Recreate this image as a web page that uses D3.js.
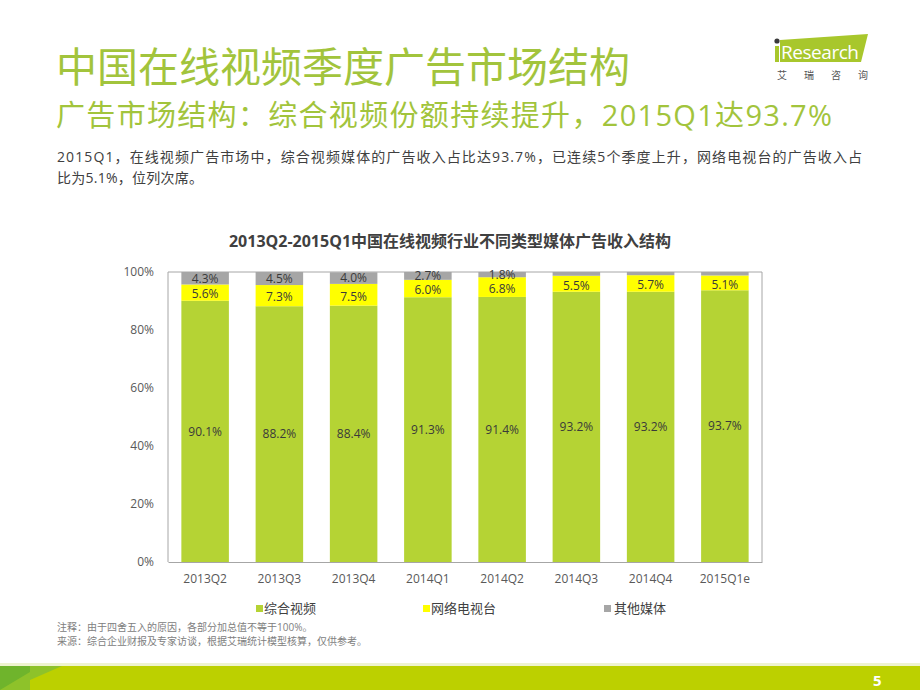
<!DOCTYPE html>
<html>
<head>
<meta charset="utf-8">
<script src="https://cdn.jsdelivr.net/npm/d3@7/dist/d3.min.js"></script>
<style>
html,body{margin:0;padding:0;background:#fff;}
svg{display:block;}
text{font-family:"Open Sans","Noto Sans CJK SC",sans-serif;}
</style>
</head>
<body>
<svg id="c" width="920" height="690"></svg>
<script>
// ---- data ----
const categories = ["2013Q2","2013Q3","2013Q4","2014Q1","2014Q2","2014Q3","2014Q4","2015Q1e"];
const seriesNames = ["综合视频","网络电视台","其他媒体"];
const zongheShipin = [90.1, 88.2, 88.4, 91.3, 91.4, 93.2, 93.2, 93.7];
const wangluoDianshitai = [5.6, 7.3, 7.5, 6.0, 6.8, 5.5, 5.7, 5.1];
const qitaMeiti = [4.3, 4.5, 4.0, 2.7, 1.8, 1.3, 1.1, 1.2];
const showOtherLabel = [true, true, true, true, true, false, false, false];
const yTicks = [0, 20, 40, 60, 80, 100];
const colors = ["#b5d334", "#ffff00", "#a6a6a6"];

const svg = d3.select("#c");
const green = "#a2c43c";

// ---- header ----
svg.append("text").attr("x", 56).attr("y", 82).attr("fill", green)
  .attr("font-size", 41).attr("font-family", "'Noto Sans CJK SC',sans-serif")
  .text("中国在线视频季度广告市场结构");
svg.append("text").attr("x", 56).attr("y", 126).attr("fill", green)
  .attr("font-size", 29).attr("font-family", "'Noto Sans CJK SC',sans-serif")
  .attr("textLength", 776).attr("lengthAdjust", "spacing")
  .text("广告市场结构：综合视频份额持续提升，2015Q1达93.7%");
svg.append("text").attr("x", 57).attr("y", 162).attr("fill", "#404040").attr("font-size", 14)
  .attr("font-family", "'Noto Sans CJK SC',sans-serif")
  .attr("textLength", 805).attr("lengthAdjust", "spacing")
  .text("2015Q1，在线视频广告市场中，综合视频媒体的广告收入占比达93.7%，已连续5个季度上升，网络电视台的广告收入占");
svg.append("text").attr("x", 57).attr("y", 183).attr("fill", "#404040").attr("font-size", 14)
  .attr("font-family", "'Noto Sans CJK SC',sans-serif")
  .attr("textLength", 146).attr("lengthAdjust", "spacing")
  .text("比为5.1%，位列次席。");

// ---- logo ----
const logo = svg.append("g");
logo.append("path").attr("d", "M780,40 L868,34 L861,62 L780,62 Z").attr("fill", "#a8c72c");
logo.append("rect").attr("x", 775).attr("y", 46).attr("width", 4).attr("height", 16).attr("fill", "#a8c72c");
logo.append("circle").attr("cx", 777).attr("cy", 41).attr("r", 2.6).attr("fill", "#3a3a3a");
logo.append("text").attr("x", 781).attr("y", 59).attr("fill", "#fff").attr("font-size", 19)
  .attr("font-family", "'Open Sans',sans-serif").attr("textLength", 78).text("Research");
logo.append("text").attr("x", 777).attr("y", 79).attr("fill", "#555").attr("font-size", 10)
  .attr("font-family", "'Noto Sans CJK SC',sans-serif").attr("letter-spacing", 17)
  .text("艾瑞咨询");

// ---- chart ----
const x = d3.scaleBand().domain(categories).range([168, 762]).paddingInner(0.36).paddingOuter(0.18);
const y = d3.scaleLinear().domain([0, 100]).range([562, 272]);

svg.append("text").attr("x", 450).attr("y", 247).attr("text-anchor", "middle")
  .attr("font-size", 16).attr("font-weight", "bold").attr("fill", "#404040")
  .text("2013Q2-2015Q1中国在线视频行业不同类型媒体广告收入结构");

// frame
svg.append("path").attr("d", `M${x.range()[0]},${y(0)} V${y(100)} H${x.range()[1]} V${y(0)}`)
  .attr("fill", "none").attr("stroke", "#a6a6a6").attr("stroke-width", 1);

const stackData = categories.map((c, i) => ({cat: c, a: zongheShipin[i], b: wangluoDianshitai[i], c: qitaMeiti[i], show: showOtherLabel[i]}));
const stack = d3.stack().keys(["a", "b", "c"])(stackData);

stack.forEach((layer, li) => {
  const g = svg.append("g");
  g.selectAll("rect").data(layer).join("rect")
    .attr("x", d => x(d.data.cat)).attr("width", x.bandwidth())
    .attr("y", d => y(d[1])).attr("height", d => y(d[0]) - y(d[1]))
    .attr("fill", colors[li]);
});
stack.forEach((layer, li) => {
  const g = svg.append("g");
  g.selectAll("text").data(layer.filter(d => li < 2 || d.data.show)).join("text")
    .attr("x", d => x(d.data.cat) + x.bandwidth() / 2)
    .attr("y", d => (y(d[0]) + y(d[1])) / 2 + (li === 1 ? 1.5 : 0))
    .attr("dy", "0.36em").attr("text-anchor", "middle")
    .attr("font-size", 12).attr("fill", "#3a3a3a")
    .text(d => (d[1] - d[0]).toFixed(1) + "%");
});

// axes
const yAxis = svg.append("g").attr("transform", `translate(${x.range()[0]},0)`)
  .call(d3.axisLeft(y).tickValues(yTicks).tickSize(0).tickPadding(14).tickFormat(d => d + "%"));
yAxis.select(".domain").remove();
yAxis.selectAll("text").attr("font-size", 12).attr("fill", "#595959")
  .attr("font-family", "'Open Sans',sans-serif");

const xAxis = svg.append("g").attr("transform", `translate(0,${y(0)})`)
  .call(d3.axisBottom(x).tickSize(0).tickPadding(12));
xAxis.select(".domain").attr("stroke", "#a6a6a6");
xAxis.selectAll("text").attr("font-size", 12).attr("fill", "#595959")
  .attr("font-family", "'Open Sans',sans-serif");

// legend
const legendX = [256, 423, 604];
const lg = svg.append("g");
seriesNames.forEach((n, i) => {
  lg.append("rect").attr("x", legendX[i]).attr("y", 605).attr("width", 7).attr("height", 7).attr("fill", colors[i]);
  lg.append("text").attr("x", legendX[i] + (i === 2 ? 10 : 8)).attr("y", 613).attr("font-size", 13)
    .attr("fill", "#404040").attr("font-family", "'Noto Sans CJK SC',sans-serif").text(n);
});

// footnotes
svg.append("text").attr("x", 57).attr("y", 631).attr("font-size", 10).attr("fill", "#808080")
  .attr("font-family", "'Noto Sans CJK SC',sans-serif")
  .text("注释：由于四舍五入的原因，各部分加总值不等于100%。");
svg.append("text").attr("x", 57).attr("y", 645).attr("font-size", 10).attr("fill", "#808080")
  .attr("font-family", "'Noto Sans CJK SC',sans-serif")
  .text("来源：综合企业财报及专家访谈，根据艾瑞统计模型核算，仅供参考。");

// bottom band
svg.append("rect").attr("x", 0).attr("y", 663).attr("width", 920).attr("height", 3).attr("fill", "#eef3cf");
svg.append("rect").attr("x", 0).attr("y", 666).attr("width", 920).attr("height", 24).attr("fill", "#bcd000");
svg.append("path").attr("d", "M0,666 L30,666 L30,690 L0,690 Z").attr("fill", "#6fb42c");
svg.append("path").attr("d", "M30,666 L62,666 L30,680 Z").attr("fill", "#8ec22a");
svg.append("path").attr("d", "M0,690 L30,672 L30,690 Z").attr("fill", "#8ec22a");
svg.append("text").attr("x", 873).attr("y", 686).attr("fill", "#fff").attr("font-size", 15)
  .attr("font-weight", "bold").attr("font-family", "'Open Sans',sans-serif").text("5");
</script>
</body>
</html>
